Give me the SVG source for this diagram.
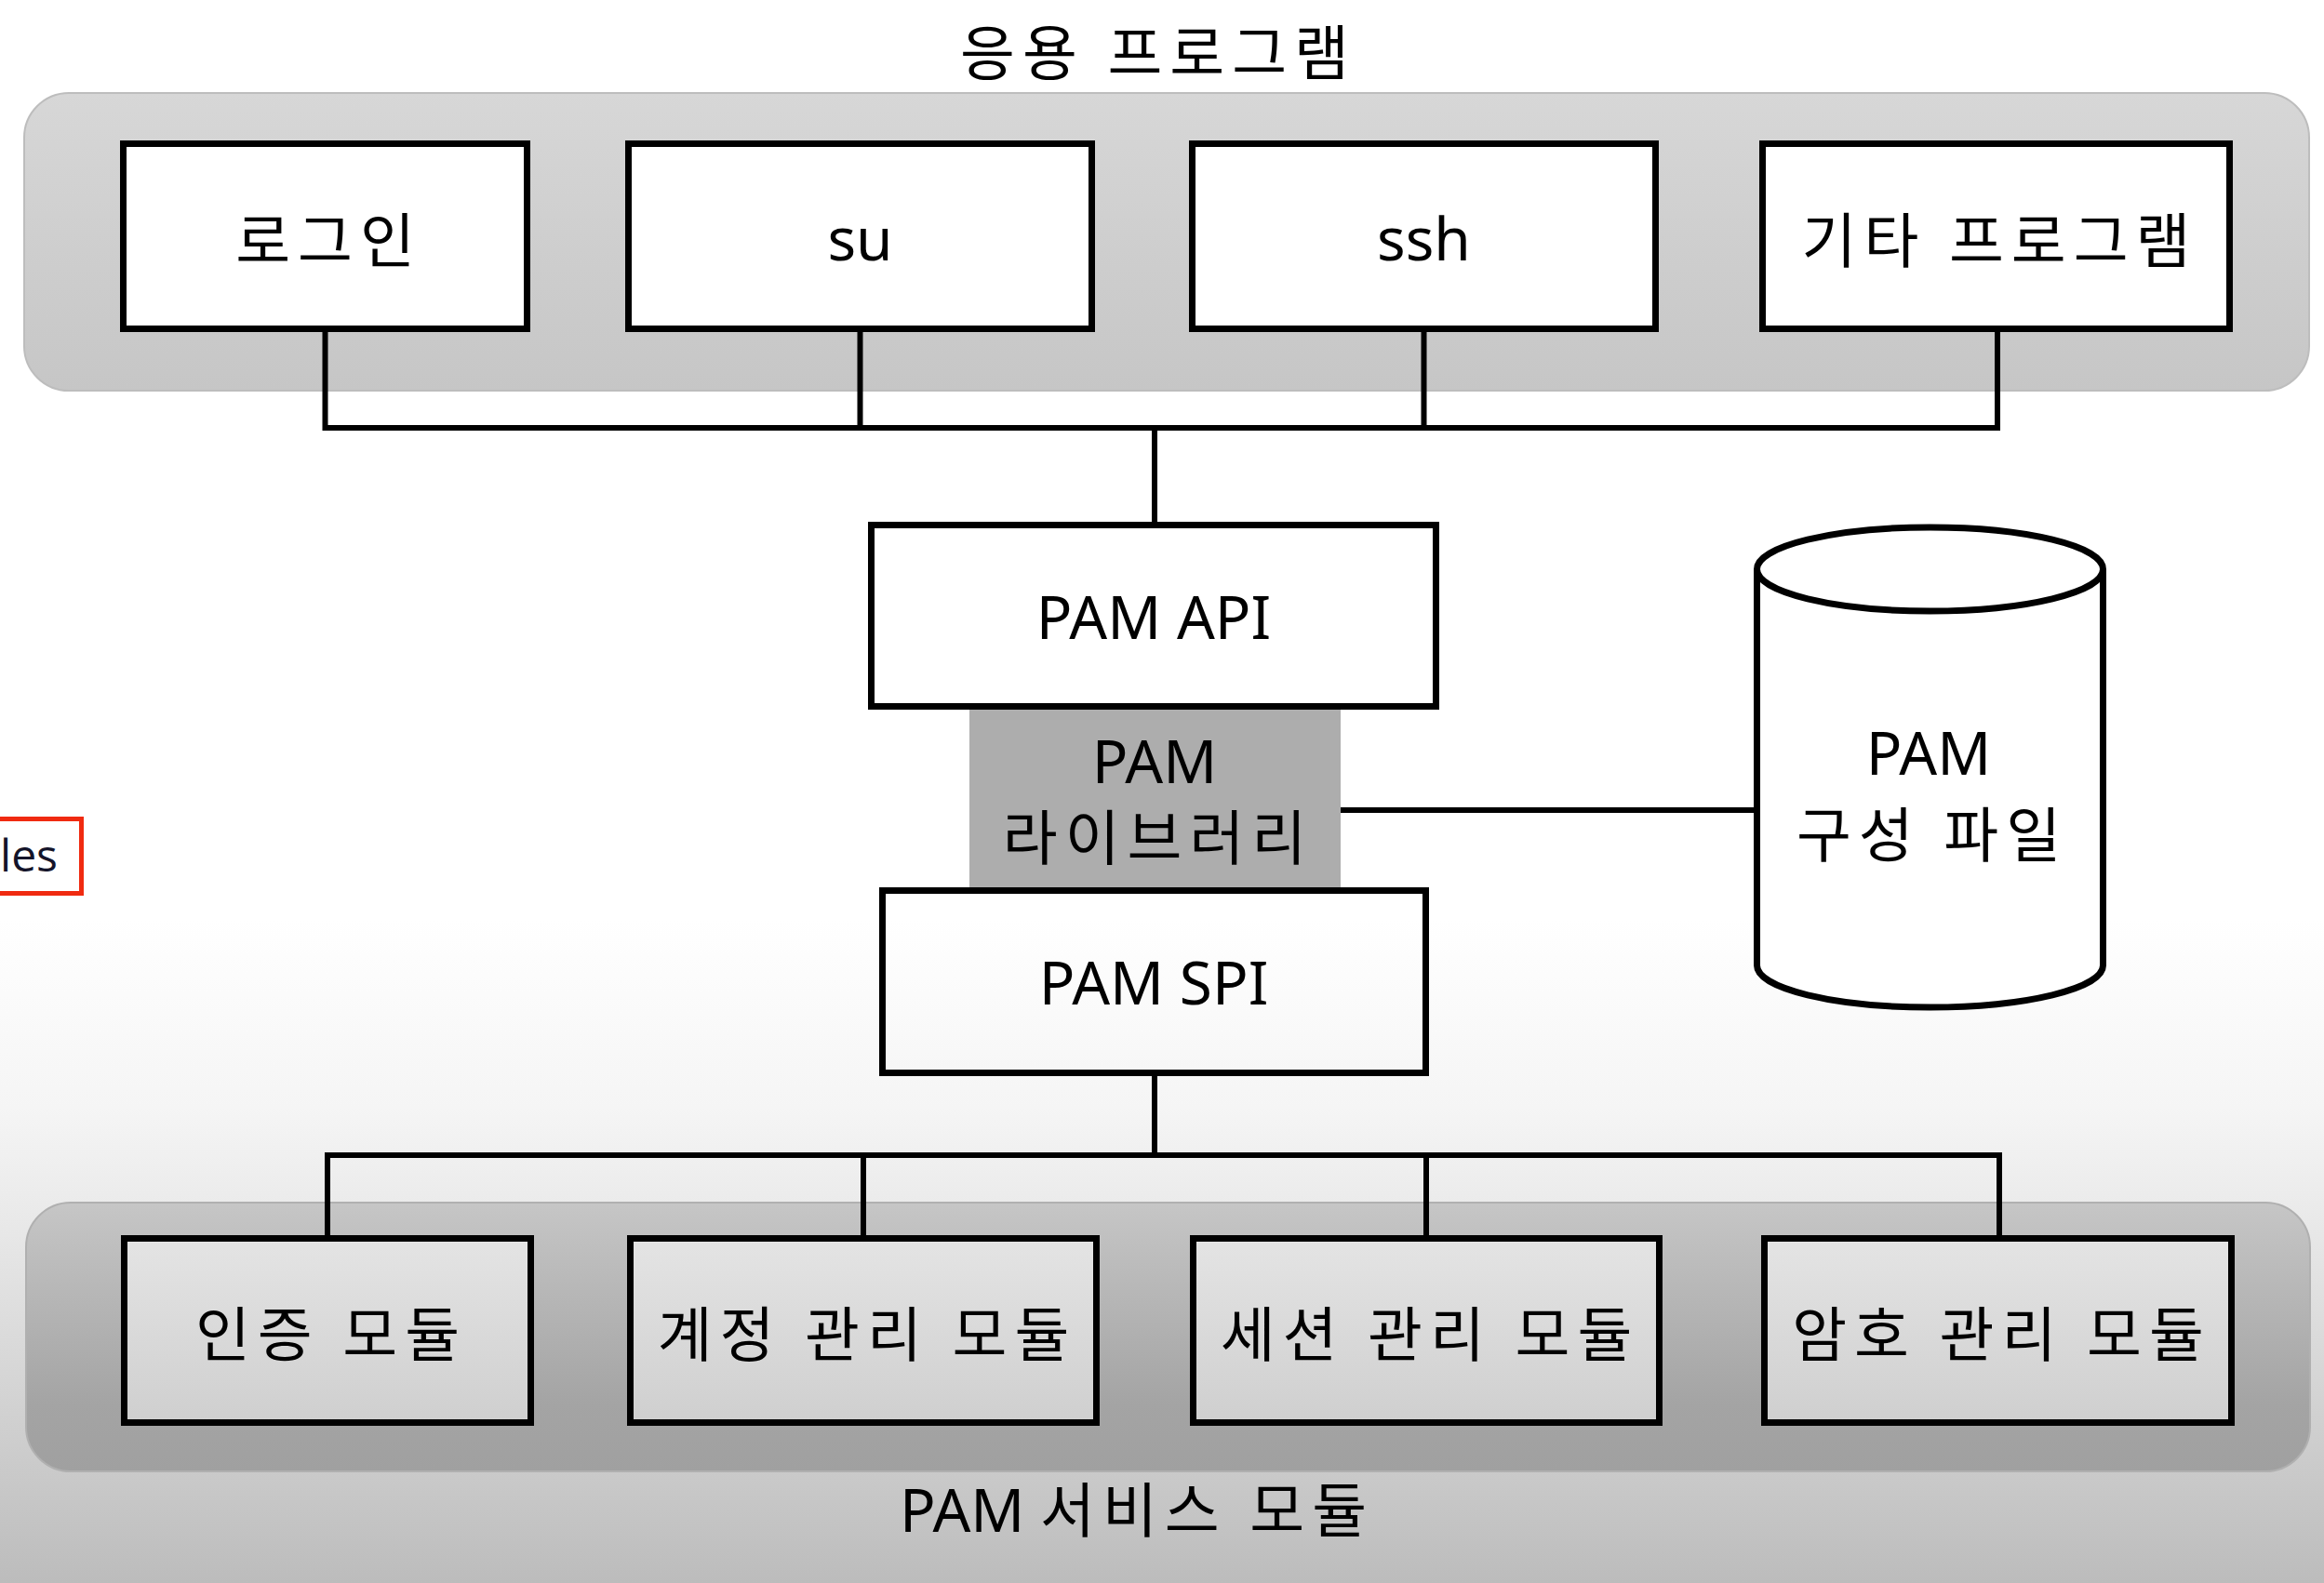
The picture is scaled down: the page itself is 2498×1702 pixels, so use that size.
<svg xmlns="http://www.w3.org/2000/svg" width="2498" height="1702" viewBox="0 0 2498 1702">
<defs>
<linearGradient id="bg" x1="0" y1="0" x2="0" y2="1702" gradientUnits="userSpaceOnUse">
<stop offset="0" stop-color="#ffffff"/>
<stop offset="0.58" stop-color="#ffffff"/>
<stop offset="0.70" stop-color="#f5f5f5"/>
<stop offset="0.76" stop-color="#ebebeb"/>
<stop offset="1" stop-color="#bcbcbc"/>
</linearGradient>
<linearGradient id="topband" x1="0" y1="0" x2="0" y2="1">
<stop offset="0" stop-color="#d7d7d7"/>
<stop offset="1" stop-color="#c6c6c6"/>
</linearGradient>
<linearGradient id="botband" x1="0" y1="0" x2="0" y2="1">
<stop offset="0" stop-color="#c6c6c6"/>
<stop offset="0.75" stop-color="#a4a4a4"/>
<stop offset="1" stop-color="#a0a0a0"/>
</linearGradient>
<linearGradient id="modfill" x1="0" y1="0" x2="0" y2="1">
<stop offset="0" stop-color="#e4e4e4"/>
<stop offset="1" stop-color="#cfcfcf"/>
</linearGradient>
<style>
.t{font-family:"Noto Sans","Noto Sans CJK KR",sans-serif;font-size:64px;fill:#000;text-anchor:middle}
.k{letter-spacing:8px}
.box{fill:#ffffff;stroke:#000;stroke-width:7}
.mod{fill:url(#modfill);stroke:#000;stroke-width:7}
.ln{fill:none;stroke:#000;stroke-width:6}
</style>
</defs>
<rect x="0" y="0" width="2498" height="1702" fill="url(#bg)"/>

<g id="app-band">
<rect x="26" y="100" width="2456" height="320" rx="48" ry="48" fill="url(#topband)" stroke="#bdbdbd" stroke-width="2"/>
<text class="t k" x="1245" y="80">응용 프로그램</text>
</g>

<g id="svc-band">
<rect x="28" y="1293" width="2455" height="289" rx="48" ry="48" fill="url(#botband)" stroke="#b0b0b0" stroke-width="2"/>
<text class="t" x="1222" y="1647">PAM <tspan class="k">서비스 모듈</tspan></text>
</g>

<g id="connectors">
<polyline class="ln" points="349.5,353 349.5,460 2147,460 2147,353"/>
<line class="ln" x1="924.5" y1="353" x2="924.5" y2="460"/>
<line class="ln" x1="1530.5" y1="353" x2="1530.5" y2="460"/>
<line class="ln" x1="1241" y1="460" x2="1241" y2="562"/>
<line class="ln" x1="1241" y1="1156" x2="1241" y2="1242"/>
<polyline class="ln" points="352,1330 352,1242 2149,1242 2149,1330"/>
<line class="ln" x1="928" y1="1242" x2="928" y2="1330"/>
<line class="ln" x1="1533" y1="1242" x2="1533" y2="1330"/>
<line class="ln" x1="1441" y1="871" x2="1886" y2="871"/>
</g>

<g id="login">
<rect class="box" x="132.5" y="154.5" width="434" height="199"/>
<text class="t k" x="353.5" y="282">로그인</text>
</g>
<g id="su">
<rect class="box" x="675.5" y="154.5" width="498" height="199"/>
<text class="t" x="924.5" y="280">su</text>
</g>
<g id="ssh">
<rect class="box" x="1281.5" y="154.5" width="498" height="199"/>
<text class="t" x="1530.5" y="280">ssh</text>
</g>
<g id="other">
<rect class="box" x="1894.5" y="154.5" width="502" height="199"/>
<text class="t k" x="2149.5" y="282">기타 프로그램</text>
</g>

<g id="pam-api">
<rect class="box" x="936.5" y="564.5" width="607" height="195"/>
<text class="t" x="1240" y="687">PAM API</text>
</g>
<g id="pam-lib">
<rect x="1042" y="763" width="399" height="191" fill="#adadad"/>
<text class="t" x="1241" y="842">PAM</text>
<text class="t k" x="1245" y="924">라이브러리</text>
</g>
<g id="pam-spi">
<rect class="box" x="948.5" y="957.5" width="584" height="196" style="fill:none"/>
<text class="t" x="1240" y="1080">PAM SPI</text>
</g>

<g id="pam-conf">
<path d="M1888.5,612 L1888.5,1038 A186,45 0 0 0 2260.5,1038 L2260.5,612" fill="#ffffff" stroke="#000" stroke-width="7"/>
<ellipse cx="2074.5" cy="612" rx="186" ry="45" fill="#ffffff" stroke="#000" stroke-width="7"/>
<text class="t" x="2073" y="833">PAM</text>
<text class="t k" x="2077" y="921">구성 파일</text>
</g>

<g id="auth">
<rect class="mod" x="133.5" y="1331.5" width="437" height="198"/>
<text class="t k" x="356" y="1458">인증 모듈</text>
</g>
<g id="account">
<rect class="mod" x="677.5" y="1331.5" width="501" height="198"/>
<text class="t k" x="932" y="1458">계정 관리 모듈</text>
</g>
<g id="session">
<rect class="mod" x="1282.5" y="1331.5" width="501" height="198"/>
<text class="t k" x="1537" y="1458">세션 관리 모듈</text>
</g>
<g id="password">
<rect class="mod" x="1896.5" y="1331.5" width="502" height="198"/>
<text class="t k" x="2151.5" y="1458">암호 관리 모듈</text>
</g>

<g id="les-tag">
<rect x="-10" y="880.5" width="97.5" height="80" fill="#ffffff" stroke="#f02a10" stroke-width="5"/>
<text x="62" y="937" font-family="'Open Sans','Noto Sans',sans-serif" font-size="48" fill="#14142a" text-anchor="end">les</text>
</g>
</svg>
